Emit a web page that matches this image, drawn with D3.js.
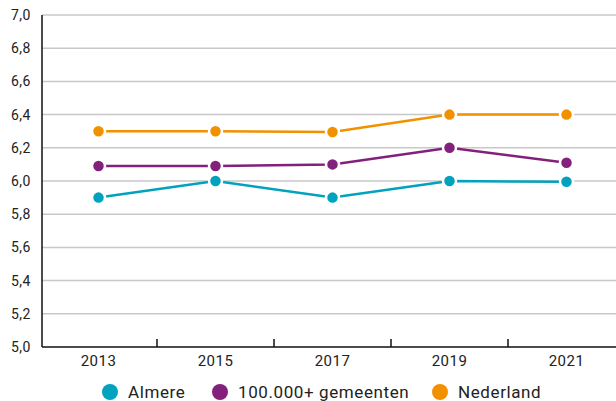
<!DOCTYPE html>
<html>
<head>
<meta charset="utf-8">
<script src="https://cdn.jsdelivr.net/npm/d3@7"></script>
<style>
  body { margin: 0; background: #fff; }
  text { font-family: Roboto, "DejaVu Sans", sans-serif; fill: #222; }
</style>
</head>
<body>
<svg id="chart" width="616" height="401"></svg>
<script>
var years = ["2013", "2015", "2017", "2019", "2021"];
var almere = [5.9, 6.0, 5.9, 6.0, 5.995];
var gemeenten = [6.09, 6.09, 6.1, 6.2, 6.11];
var nederland = [6.3, 6.3, 6.295, 6.4, 6.4];
var yTicks = [5.0, 5.2, 5.4, 5.6, 5.8, 6.0, 6.2, 6.4, 6.6, 6.8, 7.0];

var series = [
    { name: "Almere", values: almere, color: "#00a2bd" },
    { name: "100.000+ gemeenten", values: gemeenten, color: "#82207c" },
    { name: "Nederland", values: nederland, color: "#f29100" }
];

var svg = d3.select("#chart"),
    margin = { top: 15, right: 0, bottom: 54, left: 42 },
    width = +svg.attr("width"),
    height = +svg.attr("height");

var x = d3.scaleBand().domain(years).range([40, 625]);
var y = d3.scaleLinear().domain([5, 7]).range([height - margin.bottom, margin.top]);

var fmt = function(d) { return d3.format(".1f")(d).replace(".", ","); };

// gridlines
svg.append("g")
    .selectAll("line")
    .data(yTicks.slice(1))
    .join("line")
    .attr("x1", margin.left)
    .attr("x2", width)
    .attr("y1", d => y(d))
    .attr("y2", d => y(d))
    .attr("stroke", "#c8c8c8")
    .attr("stroke-width", 1.5);

// y labels
svg.append("g")
    .selectAll("text")
    .data(yTicks)
    .join("text")
    .attr("x", 31)
    .attr("y", d => y(d))
    .attr("dy", "0.35em")
    .attr("text-anchor", "end")
    .style("font-size", "14px")
    .style("letter-spacing", "0.5px")
    .text(fmt);

// axes lines
svg.append("line")
    .attr("x1", margin.left).attr("x2", margin.left)
    .attr("y1", margin.top).attr("y2", y(5))
    .attr("stroke", "#111").attr("stroke-width", 1.5);
svg.append("line")
    .attr("x1", margin.left).attr("x2", width)
    .attr("y1", y(5)).attr("y2", y(5))
    .attr("stroke", "#111").attr("stroke-width", 1.5);

// x ticks between bands
svg.append("g")
    .selectAll("line")
    .data(years.slice(1))
    .join("line")
    .attr("x1", d => x(d))
    .attr("x2", d => x(d))
    .attr("y1", y(5))
    .attr("y2", y(5) - 8)
    .attr("stroke", "#111")
    .attr("stroke-width", 1.5);

svg.append("g")
    .selectAll("text")
    .data(years)
    .join("text")
    .attr("x", d => x(d) + x.bandwidth() / 2)
    .attr("y", y(5) + 14)
    .attr("dy", "0.35em")
    .attr("text-anchor", "middle")
    .style("font-size", "15px")
    .style("letter-spacing", "0.5px")
    .text(d => d);

var line = d3.line()
    .x((d, i) => x(years[i]) + x.bandwidth() / 2)
    .y(d => y(d));

var g = svg.append("g")
    .selectAll("g")
    .data(series)
    .join("g");

g.append("path")
    .attr("d", d => line(d.values))
    .attr("fill", "none")
    .attr("stroke", d => d.color)
    .attr("stroke-width", 2.5);

g.each(function(s) {
    d3.select(this).selectAll("circle")
        .data(s.values)
        .join("circle")
        .attr("cx", (d, i) => x(years[i]) + x.bandwidth() / 2)
        .attr("cy", d => y(d))
        .attr("r", 6.5)
        .attr("fill", s.color)
        .attr("stroke", "#fff")
        .attr("stroke-width", 2.5);
});

// legend
var legendX = [110, 220, 440];
var legend = svg.append("g")
    .selectAll("g")
    .data(series)
    .join("g")
    .attr("transform", (d, i) => "translate(" + legendX[i] + ",392)");

legend.append("circle")
    .attr("r", 8)
    .attr("fill", d => d.color);

legend.append("text")
    .attr("x", 18)
    .attr("dy", "0.35em")
    .style("font-size", "17px")
    .style("letter-spacing", "0.6px")
    .text(d => d.name);
</script>
</body>
</html>
